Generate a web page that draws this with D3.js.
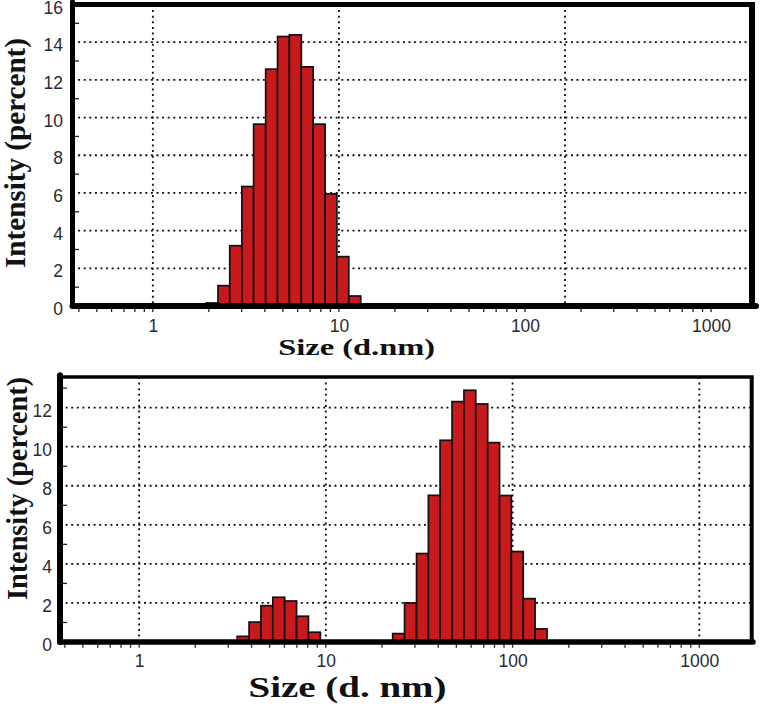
<!DOCTYPE html>
<html><head><meta charset="utf-8">
<script src="https://cdn.jsdelivr.net/npm/d3@7"></script>
<style>html,body{margin:0;padding:0;background:#fff;} svg{display:block}</style>
</head><body>
<svg id="chart" width="761" height="711"></svg>
<script>
// ---- data ----
// bin edges (nm) and intensity (%) per bin
const topEdges = [1.93, 2.24, 2.59, 3.01, 3.48, 4.04, 4.68, 5.42, 6.28, 7.27, 8.43, 9.75, 11.3, 13.1];
const topIntensity = [0.16, 1.08, 3.2, 6.34, 9.65, 12.57, 14.30, 14.39, 12.69, 9.65, 5.95, 2.62, 0.53];

const bottomEdges = [3.35, 3.88, 4.49, 5.20, 6.02, 6.97, 8.07, 9.35, 10.8, 12.5, 14.5, 16.8, 19.5,
                     22.8, 26.4, 30.6, 35.4, 40.9, 47.4, 54.9, 63.5, 73.6, 85.2, 98.5, 114, 132, 153];
const bottomIntensity = [0.29, 1.02, 1.86, 2.29, 2.10, 1.32, 0.50, 0, 0, 0, 0, 0, 0,
                         0.43, 2.0, 4.53, 7.51, 10.33, 12.31, 12.89, 12.19, 10.21, 7.50, 4.63, 2.22, 0.67];

const xTickValues = [1, 10, 100, 1000];
const topYTicks = [0, 2, 4, 6, 8, 10, 12, 14, 16];
const bottomYTicks = [0, 2, 4, 6, 8, 10, 12];
const topGridX = [1, 10, 164];
const bottomGridX = [1, 10, 100, 1000];
const topXLabel = "Size (d.nm)";
const bottomXLabel = "Size (d. nm)";
const yLabel = "Intensity (percent)";

// ---- layout ----
const panels = [
  { edges: topEdges, values: topIntensity, yTicks: topYTicks, gridX: topGridX,
    xDomain: [0.37, 1660], xRange: [72.5, 752], yDomain: [0, 16], yRange: [306, 4.5],
    frame: { top: 5, right: 6, left: 5, bottom: 6 }, bottomExtend: 756,
    yLabelRight: 63, xLabelY: 333, xLabelFont: 17.5,
    xTitle: topXLabel, xTitleX: 356.7, xTitleY: 355, xTitleSize: 24, xTitleLen: 157,
    yTitleX: 25, yTitleY: 153, yTitleSize: 28.5, yTitleLen: 230 },
  { edges: bottomEdges, values: bottomIntensity, yTicks: bottomYTicks, gridX: bottomGridX,
    xDomain: [0.377, 1908], xRange: [60, 751.7], yDomain: [0, 13.57], yRange: [642, 377],
    frame: { top: 3.5, right: 4, left: 6, bottom: 5.5 }, bottomExtend: 753,
    yLabelRight: 52, xLabelY: 668, xLabelFont: 17.5,
    xTitle: bottomXLabel, xTitleX: 347.5, xTitleY: 697, xTitleSize: 30, xTitleLen: 198,
    yTitleX: 27, yTitleY: 488.5, yTitleSize: 28.5, yTitleLen: 223 }
];

const svg = d3.select("#chart");

panels.forEach(p => {
  const x = d3.scaleLog().domain(p.xDomain).range(p.xRange);
  const y = d3.scaleLinear().domain(p.yDomain).range(p.yRange);
  const g = svg.append("g");
  const [x0, x1] = p.xRange;
  const [yb, yt] = p.yRange;

  // grid
  const gridY = p.yTicks.filter(v => v > 0 && y(v) > yt + 3);
  g.selectAll(".gy").data(gridY).join("line")
    .attr("x1", x0).attr("x2", x1).attr("y1", d => y(d)).attr("y2", d => y(d))
    .attr("stroke", "#111").attr("stroke-width", 1.8).attr("stroke-dasharray", "2,3.6");
  g.selectAll(".gx").data(p.gridX).join("line")
    .attr("x1", d => x(d)).attr("x2", d => x(d)).attr("y1", yt).attr("y2", yb)
    .attr("stroke", "#111").attr("stroke-width", 1.8).attr("stroke-dasharray", "2,3.6");

  // bars
  const bins = p.values.map((v, i) => ({ lo: p.edges[i], hi: p.edges[i + 1], v }))
    .filter(b => b.v > 0);
  g.selectAll(".bar").data(bins).join("rect")
    .attr("x", d => x(d.lo)).attr("width", d => x(d.hi) - x(d.lo))
    .attr("y", d => y(d.v)).attr("height", d => y(0) - y(d.v))
    .attr("fill", "#c8191c").attr("stroke", "#111").attr("stroke-width", 1.7);

  // frame
  const f = p.frame;
  g.append("line").attr("x1", x0 - f.left / 2).attr("x2", x1 + f.right / 2).attr("y1", yt).attr("y2", yt)
    .attr("stroke", "#000").attr("stroke-width", f.top);
  g.append("line").attr("x1", x1).attr("x2", x1).attr("y1", yt).attr("y2", yb)
    .attr("stroke", "#000").attr("stroke-width", f.right);
  g.append("line").attr("x1", x0).attr("x2", x0).attr("y1", yt - f.top / 2).attr("y2", yb)
    .attr("stroke", "#000").attr("stroke-width", f.left).attr("stroke-linecap", "round");
  g.append("line").attr("x1", x0).attr("x2", p.bottomExtend).attr("y1", yb).attr("y2", yb)
    .attr("stroke", "#000").attr("stroke-width", f.bottom).attr("stroke-linecap", "round");

  // x ticks (major + minor) below the axis
  const xt = x.ticks().filter(v => x(v) > x0 + 4 && x(v) < x1 - 4);
  g.selectAll(".xt").data(xt).join("line")
    .attr("x1", d => x(d)).attr("x2", d => x(d))
    .attr("y1", yb + f.bottom / 2).attr("y2", yb + f.bottom / 2 + 3)
    .attr("stroke", "#222").attr("stroke-width", 1.3);

  // y minor ticks inside
  const yMinor = d3.range(1, p.yDomain[1], 2).filter(v => y(v) > yt + 3);
  g.selectAll(".ym").data(yMinor).join("line")
    .attr("x1", x0 + f.left / 2).attr("x2", x0 + f.left / 2 + 4)
    .attr("y1", d => y(d)).attr("y2", d => y(d))
    .attr("stroke", "#222").attr("stroke-width", 1.3);

  // x tick labels via axis
  const ax = g.append("g").attr("transform", `translate(0,${p.xLabelY - 13})`)
    .call(d3.axisBottom(x).tickValues(xTickValues).tickSize(0).tickPadding(0).tickFormat(d3.format("d")));
  ax.select(".domain").remove();
  ax.selectAll("text").attr("font-family", "'Liberation Sans', Arial, sans-serif")
    .attr("font-size", p.xLabelFont).attr("fill", "#2b2b33").attr("dy", "0.71em");

  // y tick labels via axis
  const ay = g.append("g").attr("transform", `translate(${p.yLabelRight},3)`)
    .call(d3.axisLeft(y).tickValues(p.yTicks).tickSize(0).tickPadding(0).tickFormat(d3.format("d")));
  ay.select(".domain").remove();
  ay.selectAll("text").attr("font-family", "'Liberation Sans', Arial, sans-serif")
    .attr("font-size", 17.5).attr("fill", "#2b2b33");

  // titles
  g.append("text").attr("x", p.xTitleX).attr("y", p.xTitleY)
    .attr("text-anchor", "middle").attr("font-family", "'Liberation Serif', 'Times New Roman', serif")
    .attr("font-weight", "bold").attr("font-size", p.xTitleSize).attr("fill", "#111")
    .attr("textLength", p.xTitleLen).attr("lengthAdjust", "spacingAndGlyphs")
    .text(p.xTitle);
  g.append("text").attr("transform", `translate(${p.yTitleX},${p.yTitleY}) rotate(-90)`)
    .attr("text-anchor", "middle").attr("font-family", "'Liberation Serif', 'Times New Roman', serif")
    .attr("font-weight", "bold").attr("font-size", p.yTitleSize).attr("fill", "#111")
    .attr("textLength", p.yTitleLen).attr("lengthAdjust", "spacingAndGlyphs")
    .text(yLabel);
});
</script>
</body></html>
